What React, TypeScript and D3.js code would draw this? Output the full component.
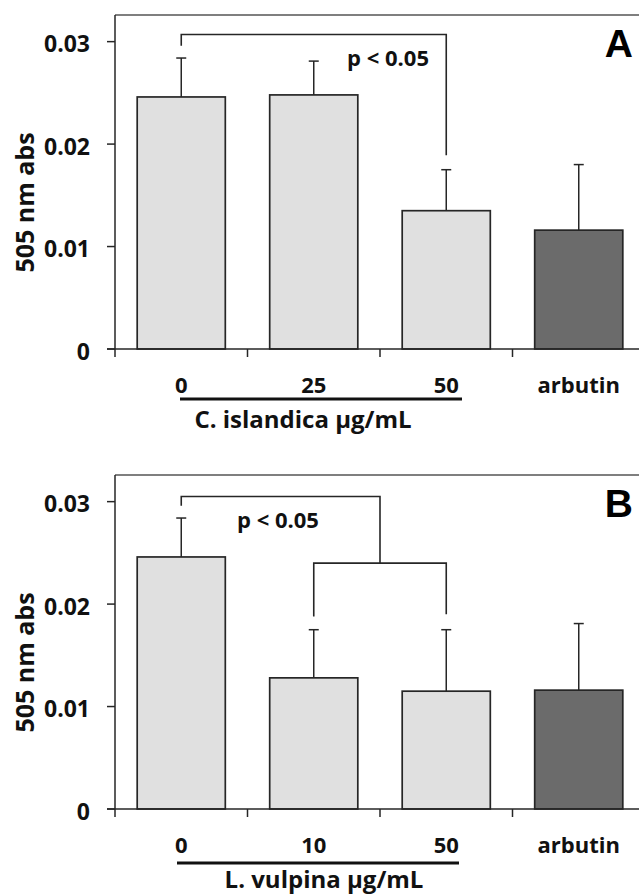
import React from 'react';
import * as d3 from 'd3';

// panel A: C. islandica
const catsA = ['0', '25', '50', 'arbutin'];
const meansA = [0.0246, 0.0248, 0.0135, 0.0116];
const errsA = [0.0038, 0.0033, 0.004, 0.0064];

// panel B: L. vulpina
const catsB = ['0', '10', '50', 'arbutin'];
const meansB = [0.0246, 0.0128, 0.0115, 0.0116];
const errsB = [0.0038, 0.0047, 0.006, 0.0065];

const barFills = ['#e0e0e0', '#e0e0e0', '#e0e0e0', '#6b6b6b'];
const yTicks = [0, 0.01, 0.02, 0.03];
const yTickLabels = ['0', '0.01', '0.02', '0.03'];

// significance brackets: positions in category index (fractional) and y values
const bracketsA = [{ i1: 0, i2: 2, top: 0.0307, leg1: 0.0296, leg2: 0.0189 }];
const bracketsB = [
  { i1: 0, i2: 1.5, top: 0.0305, leg1: 0.0296, leg2: 0.024 },
  { i1: 1, i2: 2, top: 0.024, leg1: 0.0188, leg2: 0.019 },
];

const FONT = '"Open Sans", "Noto Sans", sans-serif';
const INK = '#262626';

type PanelProps = {
  cats: string[];
  means: number[];
  errs: number[];
  brackets: { i1: number; i2: number; top: number; leg1: number; leg2: number }[];
  letter: string;
  title: string;
  titleX: number;
  lineY: number;
  lineX: [number, number];
  pX: number;
  pY: number;
  pAnchor: string;
  dy: number;
};

function Panel(p: PanelProps) {
  const x = d3.scaleBand<string>().domain(p.cats).range([115, 645]);
  const y = d3.scaleLinear().domain([0, 0.0326]).range([349, 15]);
  const bw = x.bandwidth() * 0.665;
  const cx = (i: number) => 115 + x.step() * (i + 0.5);
  const capW = 10;

  return (
    <g transform={`translate(0,${p.dy})`}>
      {/* frame */}
      <line x1={115} x2={639} y1={15} y2={15} stroke="#555" strokeWidth={1.5} />
      <line x1={115} x2={115} y1={15} y2={349} stroke={INK} strokeWidth={1.5} />

      {/* bars */}
      {p.cats.map((c, i) => (
        <g key={c}>
          <line
            x1={cx(i)} x2={cx(i)}
            y1={y(p.means[i])} y2={y(p.means[i] + p.errs[i])}
            stroke={INK} strokeWidth={1.5}
          />
          <line
            x1={cx(i) - capW / 2} x2={cx(i) + capW / 2}
            y1={y(p.means[i] + p.errs[i])} y2={y(p.means[i] + p.errs[i])}
            stroke={INK} strokeWidth={1.5}
          />
          <rect
            x={x(c)! + (x.bandwidth() - bw) / 2}
            y={y(p.means[i])}
            width={bw}
            height={y(0) - y(p.means[i])}
            fill={barFills[i]}
            stroke={INK}
            strokeWidth={1.7}
          />
        </g>
      ))}

      {/* axes */}
      <line x1={107} x2={639} y1={349} y2={349} stroke={INK} strokeWidth={1.5} />
      {yTicks.map((t, i) => (
        <g key={t}>
          <line x1={107} x2={115} y1={y(t)} y2={y(t)} stroke={INK} strokeWidth={1.5} />
          <text x={90} y={y(t) + 10.5} textAnchor="end" fontFamily={FONT} fontWeight={700} fontSize={23} fill="#111">
            {yTickLabels[i]}
          </text>
        </g>
      ))}
      {p.cats.map((c) => (
        <line key={c} x1={x(c)} x2={x(c)} y1={349} y2={357} stroke={INK} strokeWidth={1.5} />
      ))}
      {p.cats.map((c, i) => (
        <text key={c} x={cx(i)} y={392.5} textAnchor="middle" fontFamily={FONT} fontWeight={700} fontSize={22} fill="#111">
          {c}
        </text>
      ))}
      <line x1={p.lineX[0]} x2={p.lineX[1]} y1={p.lineY} y2={p.lineY} stroke="#111" strokeWidth={3} />
      <text x={p.titleX} y={428} textAnchor="middle" fontFamily={FONT} fontWeight={700} fontSize={24} fill="#111">
        {p.title}
      </text>
      <text
        transform={`translate(34,${y(0.0143)}) rotate(-90)`}
        textAnchor="middle"
        fontFamily={FONT}
        fontWeight={700}
        fontSize={25}
        fill="#111"
      >
        505 nm abs
      </text>

      {/* significance */}
      {p.brackets.map((b, k) => (
        <path
          key={k}
          d={`M${cx(b.i1)},${y(b.leg1)}V${y(b.top)}H${cx(b.i2)}V${y(b.leg2)}`}
          fill="none"
          stroke={INK}
          strokeWidth={1.6}
        />
      ))}
      <text x={p.pX} y={p.pY} textAnchor={p.pAnchor} fontFamily={FONT} fontWeight={700} fontSize={22} fill="#111">
        p &lt; 0.05
      </text>

      <text x={633} y={57} textAnchor="end" fontFamily='"Liberation Sans", Arial, sans-serif' fontWeight={700} fontSize={39} fill="#000">
        {p.letter}
      </text>
    </g>
  );
}

export default function App() {
  return (
    <svg width={639} height={896} style={{ position: 'absolute', left: 0, top: 0, background: '#fff' }}>
      <rect width={639} height={896} fill="#fff" />
      <Panel
        cats={catsA} means={meansA} errs={errsA} brackets={bracketsA}
        letter="A" title="C. islandica μg/mL" titleX={303}
        lineY={399} lineX={[180, 462]}
        pX={429} pY={66} pAnchor="end" dy={0}
      />
      <Panel
        cats={catsB} means={meansB} errs={errsB} brackets={bracketsB}
        letter="B" title="L. vulpina μg/mL" titleX={324}
        lineY={403} lineX={[177, 459]}
        pX={237} pY={68} pAnchor="start" dy={460}
      />
    </svg>
  );
}
